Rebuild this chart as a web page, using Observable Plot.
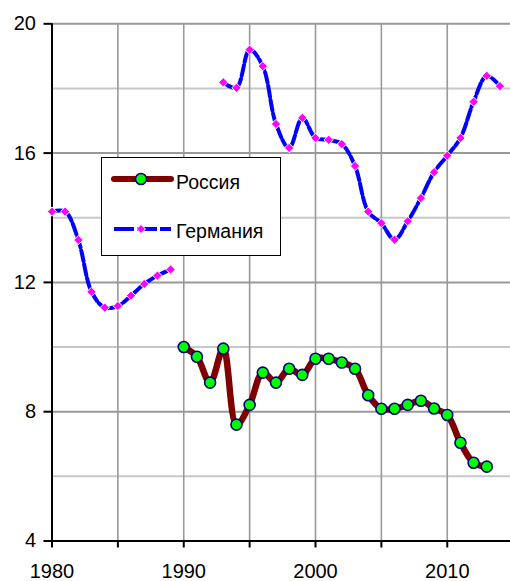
<!DOCTYPE html>
<html>
<head>
<meta charset="utf-8">
<script src="https://cdn.jsdelivr.net/npm/d3@7"></script>
<script src="https://cdn.jsdelivr.net/npm/@observablehq/plot@0.6"></script>
<style>
  body { margin: 0; background: #fff; }
  #wrap { position: relative; width: 510px; height: 581px; overflow: hidden; font-family: "Liberation Sans", Arial, sans-serif; }
  #legend { position: absolute; left: 101px; top: 157px; width: 180px; height: 99px; box-sizing: border-box; border: 1.5px solid #000; background: #fff; }
</style>
</head>
<body>
<div id="wrap"></div>
<script>
const russiaYears = [1990,1991,1992,1993,1994,1995,1996,1997,1998,1999,2000,2001,2002,2003,2004,2005,2006,2007,2008,2009,2010,2011,2012,2013];
const russia = [10.0,9.70,8.9,9.95,7.6,8.21,9.21,8.9,9.33,9.14,9.64,9.64,9.52,9.33,8.51,8.09,8.09,8.21,8.34,8.1,7.9,7.04,6.42,6.3];
const germanyYears = [1980,1981,1982,1983,1984,1985,1986,1987,1988,1989,1990,1991,1992,1993,1994,1995,1996,1997,1998,1999,2000,2001,2002,2003,2004,2005,2006,2007,2008,2009,2010,2011,2012,2013,2014];
const germany = [14.19,14.19,13.31,11.71,11.22,11.27,11.59,11.95,12.21,12.4,null,null,null,18.19,18.02,19.2,18.69,16.9,16.16,17.09,16.47,16.41,16.28,15.6,14.19,13.83,13.32,13.89,14.61,15.41,15.92,16.47,17.59,18.39,18.07];
const yTicks = [4,8,12,16,20];
const yMinor = [6,10,14,18];
const xGrid = [1985,1990,1995,2000,2005,2010];
const xTicks = [1980,1985,1990,1995,2000,2005,2010];
const seriesNames = ["Россия", "Германия"];

const russiaData = russiaYears.map((y,i) => ({year: y, value: russia[i]}));
const germanyData = germanyYears.map((y,i) => ({year: y, value: germany[i] == null ? NaN : germany[i]}));

const chart = Plot.plot({
  width: 510,
  height: 581,
  marginLeft: 51.5,
  marginRight: 0,
  marginTop: 23.3,
  marginBottom: 40.5,
  style: {fontFamily: "'Liberation Sans', Arial, sans-serif", fontSize: "20px", background: "#fff", color: "#000"},
  x: {domain: [1980, 2014.8]},
  y: {domain: [4, 20]},
  marks: [
    Plot.ruleY(yMinor, {stroke: "#c8c8c8", strokeWidth: 2}),
    Plot.ruleY(yTicks.slice(1), {stroke: "#999", strokeWidth: 2}),
    Plot.ruleX(xGrid, {stroke: "#999", strokeWidth: 1.6}),
    Plot.ruleX([1980], {stroke: "#000", strokeWidth: 2}),
    Plot.ruleY([4], {stroke: "#000", strokeWidth: 2}),
    Plot.axisY({ticks: yTicks, tickSize: 8, tickPadding: 8, fontSize: 20, stroke: "#000", strokeWidth: 2, label: null, tickFormat: d => String(d)}),
    Plot.axisX({ticks: xTicks, tickSize: 7, tickPadding: 16, fontSize: 20, stroke: "#000", strokeWidth: 2, label: null, tickFormat: d => d % 10 === 0 ? String(d) : ""}),
    Plot.line(germanyData, {x: "year", y: "value", stroke: "#0000ff", strokeWidth: 4, strokeDasharray: "11,3", curve: "catmull-rom"}),
    Plot.dot(germanyData, {x: "year", y: "value", symbol: "diamond2", r: 4.2, fill: "#ff00ff", stroke: "#fff", strokeWidth: 1}),
    Plot.line(russiaData, {x: "year", y: "value", stroke: "#800000", strokeWidth: 6.5, curve: "catmull-rom"}),
    Plot.dot(russiaData, {x: "year", y: "value", r: 5.5, fill: "#00ff00", stroke: "#000080", strokeWidth: 1.6})
  ]
});
const wrap = document.getElementById("wrap");
wrap.appendChild(chart);

const legend = document.createElement("div");
legend.id = "legend";
legend.innerHTML = `
<svg width="177" height="96" style="position:absolute;left:0;top:0;font-family:'Liberation Sans',Arial,sans-serif">
  <line x1="12" y1="21" x2="69" y2="21" stroke="#800000" stroke-width="6" stroke-linecap="round"/>
  <circle cx="39" cy="21" r="5.5" fill="#00ff00" stroke="#000080" stroke-width="1.6"/>
  <text x="74" y="31" font-size="19.5">${seriesNames[0]}</text>
  <line x1="12" y1="71" x2="69" y2="71" stroke="#0000ff" stroke-width="4" stroke-dasharray="20,3"/>
  <path d="M39,66.5 L43.5,71 L39,75.5 L34.5,71 Z" fill="#ff00ff" stroke="#fff" stroke-width="1"/>
  <text x="74" y="79.5" font-size="19.5">${seriesNames[1]}</text>
</svg>`;
wrap.appendChild(legend);
</script>
</body>
</html>
